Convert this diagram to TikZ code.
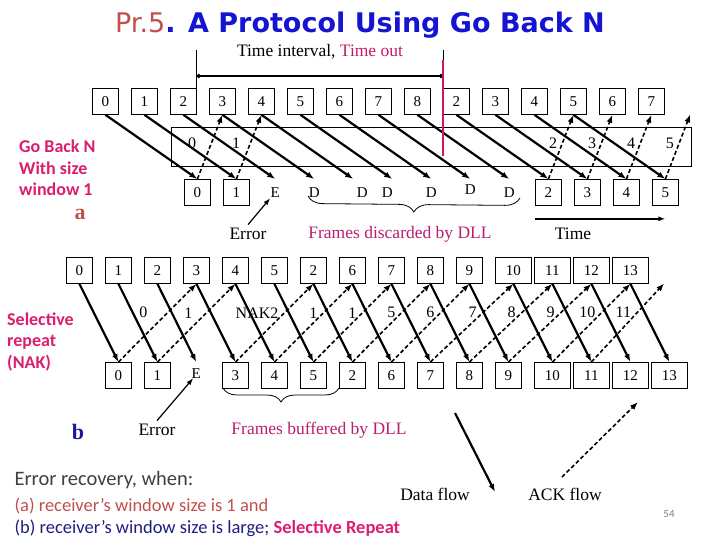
\documentclass[tikz,border=0pt]{standalone}
\usepackage{fontspec}
\setmainfont{Liberation Serif}
\setsansfont{Carlito}
\newfontfamily\titlefont{DejaVu Sans}
\usepackage{tikz}
\usetikzlibrary{arrows.meta,calc,positioning,decorations.pathreplacing}
\definecolor{prbrown}{RGB}{192,80,77}
\definecolor{titleblue}{RGB}{20,20,210}
\definecolor{pinklab}{RGB}{220,30,110}
\definecolor{framepink}{RGB}{185,30,110}
\definecolor{timered}{RGB}{200,25,100}
\definecolor{navytext}{RGB}{30,30,130}
\definecolor{bnavy}{RGB}{25,25,160}
\definecolor{darkgrey}{RGB}{64,64,64}
\newcommand\dllD[2]{\makebox[0pt]{\hspace{#1}\raisebox{#2}{D}}}
\tikzset{
  slot/.style={minimum width=26pt,minimum height=26pt,inner sep=0pt,anchor=north west,font=\fontsize{15}{15}\selectfont},
  fbox/.style={slot,draw,line width=0.8pt},
  wbox/.style={fbox,minimum width=36pt},
  lab/.style={font=\fontsize{17.5}{17.5}\selectfont},
  acklab/.style={font=\fontsize{16}{16}\selectfont},
  dataflow/.style={line width=2.2pt,-{Latex[length=8pt,width=6pt]}},
  ackflow/.style={line width=1.6pt,dash pattern=on 4pt off 2.5pt,-{Latex[length=8pt,width=6pt]}},
  sidelab/.style={anchor=west,align=left,inner sep=1pt,font=\sffamily\bfseries\fontsize{18}{21.5}\selectfont,text=pinklab},
  partlab/.style={inner sep=0pt,font=\bfseries\fontsize{22}{22}\selectfont},
}

\begin{document}
\begin{tikzpicture}[x=1pt,y=-1pt]
\useasboundingbox (0,0) rectangle (720,540);

% title
\node[font=\titlefont\fontsize{27}{27}\selectfont] (title) at (360,25)
  {\textcolor{prbrown}{Pr.5}\textcolor{titleblue}{\bfseries. A Protocol Using Go Back N}};

% (a) go back n
\draw[line width=0.8pt] (171,127) rectangle (691,166);
\foreach \lab [count=\i from 0] in {0,1,2,3,4,5,6,7,8,2,3,4,5,6,7}
  \node[fbox] (ta\i) at ({92+39*\i},88) {\lab};
\node[slot] (ta15) at ({92+39*15},88) {};
\foreach \lab/\sty [count=\j from 0] in {0/fbox,1/fbox,E/slot,D/slot,\dllD{18pt}{0pt}/slot,\dllD{-10pt}{0pt}/slot,D/slot,\dllD{0pt}{6pt}/slot,D/slot,2/fbox,3/fbox,4/fbox,5/fbox}
  \node[\sty] (ra\j) at ({184+39*\j},179) {\lab};
\foreach \i in {0,...,12}
  \draw[dataflow] (ta\i.south) -- (ra\i.north);
\foreach \j/\k/\lab/\dx in {0/3/0/-10,1/4/1/-5,9/12/2/0,10/13/3/0,11/14/4/0,12/15/5/0}
  \draw[ackflow] (ra\j.north) -- node[pos=0.55,left=1pt,xshift=\dx,acklab] {\lab} (ta\k.south);

% time interval
\node[lab] (tilab) at (320,52) {Time interval, \textcolor{timered}{Time out}};
\coordinate (tiL) at ($(ta2.north east)+(0,-38)$);
\coordinate (tiR) at ($(ta9.north west)+(0,-38)$);
\coordinate (toT) at ($(ta9.north west)+(0,-28)$);
\coordinate (toB) at ($(ta9.north west)+(0,68)$);
\draw[line width=0.8pt] (ta2.north east) -- (tiL);
\draw[line width=0.8pt] (tiR) -- (toT);
\draw[line width=1.5pt,{Circle[length=4pt]}-{Circle[length=4pt]}] ($(tiL)+(0,26)$) -- ($(tiR)+(0,26)$);
\draw[timered,line width=2.5pt] (toT) -- (toB);

\node[sidelab] (gbn) at (18,168) {Go Back N\\With size\\window 1};
\node[partlab,text=prbrown] (parta) at (80,214) {a};
\node[lab] (erra) at (248,234) {Error};
\draw[line width=1.2pt,-{Latex[length=7pt,width=5pt]}] (erra.north) -- ($(ra2.center)+(-5,6)$);
\draw[line width=0.8pt,decorate,decoration={brace,mirror,amplitude=15pt}] (308,196) -- (520,198);
\node[lab,text=framepink] (disc) at (400,234) {Frames discarded by DLL};
\coordinate (tsA) at ($(ra9.south west)+(0,13)$);
\coordinate (tsB) at ($(ra12.south)+(0,13)$);
\draw[line width=1.5pt,-{Latex[length=7pt,width=5pt]}] (tsA) -- (tsB);
\node[lab] (timelab) at (573,234) {Time};

% (b) selective repeat
\foreach \lab/\sty [count=\i from 0] in {0/fbox,1/fbox,2/fbox,3/fbox,4/fbox,5/fbox,2/fbox,6/fbox,7/fbox,8/fbox,9/fbox,10/wbox,11/wbox,12/wbox,13/wbox}
  \node[\sty] (tb\i) at ({66+39*\i},257) {\lab};
\node[slot] (tb15) at ({66+39*15},257) {};
\foreach \lab/\sty [count=\j from 0] in {0/fbox,1/fbox,\raisebox{4pt}{E}/slot,3/fbox,4/fbox,5/fbox,2/fbox,6/fbox,7/fbox,8/fbox,9/fbox,10/wbox,11/wbox,12/wbox,13/wbox}
  \node[\sty] (rb\j) at ({105+39*\j},362) {\lab};
\foreach \i in {0,...,14}
  \draw[dataflow] (tb\i.south) -- (rb\i.north);
\foreach \j/\k/\lab/\dx in {0/3/0/-14,1/4/1/-8,3/6/NAK2/0,4/7/1/0,5/8/1/0,6/9/5/0,7/10/6/0,8/11/7/0,9/12/8/0,10/13/9/0,11/14/10/0,12/15/11/0}
  \draw[ackflow] (rb\j.north) -- node[pos=0.63,left=2pt,xshift=\dx,acklab] {\lab} (tb\k.south);

\node[sidelab] (selrep) at (6,342) {Selective\\repeat\\(NAK)};
\node[partlab,text=bnavy] (partb) at (78,432) {b};
\node[lab] (errb) at (157,430) {Error};
\draw[line width=1.2pt,-{Latex[length=7pt,width=5pt]}] (errb.north) -- ($(rb2.center)+(-3,3)$);
\draw[line width=0.8pt,decorate,decoration={brace,mirror,amplitude=14pt}] (223,388) -- (339,388);
\node[lab,text=framepink] (buff) at (319,430) {Frames buffered by DLL};

% legend
\coordinate (dfs) at (455,413);
\coordinate (dfe) at (495,492);
\draw[dataflow] (dfs) -- (dfe);
\node[lab] (dflab) at (435,494) {Data flow};
\coordinate (afs) at (562,477);
\coordinate (afe) at (638,402);
\draw[ackflow] (afs) -- (afe);
\node[lab] (aflab) at (565,494) {ACK flow};

% bottom text
\node[anchor=west,font=\sffamily\fontsize{20.5}{20.5}\selectfont,text=darkgrey] (erec) at (11,480) {Error recovery, when:};
\node[anchor=west,font=\sffamily\fontsize{18.5}{18.5}\selectfont,text=prbrown] (reca) at (11,506) {(a) receiver's window size is 1 and};
\node[anchor=west,font=\sffamily\fontsize{18.5}{18.5}\selectfont,text=navytext] (recb) at (11,528) {(b) receiver's window size is large; \textbf{\textcolor{pinklab}{Selective Repeat}}};
\node[font=\sffamily\fontsize{11}{11}\selectfont,text=gray] (pnum) at (669,514) {54};
\end{tikzpicture}
\end{document}
